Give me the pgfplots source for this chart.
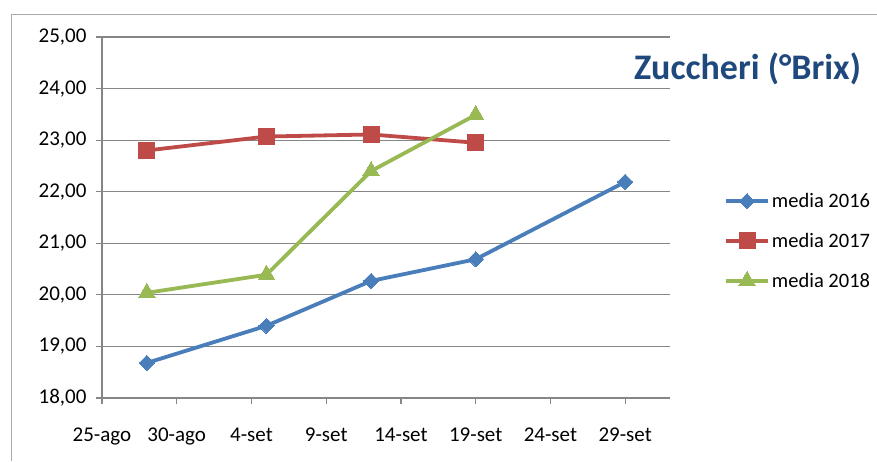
\documentclass[border=0pt]{standalone}
\usepackage{pgfplots}
\pgfplotsset{compat=1.18}
\usepackage{fontspec}
\setmainfont{Carlito}
\definecolor{c16}{RGB}{74,126,187}
\definecolor{c17}{RGB}{190,75,72}
\definecolor{c18}{RGB}{152,185,84}
\definecolor{titleblue}{RGB}{31,73,125}
\definecolor{gridgray}{RGB}{134,134,134}
\begin{document}
\begin{tikzpicture}[x=1pt,y=1pt]
\useasboundingbox (0,0) rectangle (877,461);
\draw[gridgray!70, line width=1pt] (11,0) -- (11,446) -- (877,446);
\begin{axis}[
  at={(102pt,63pt)}, anchor=south west,
  scale only axis, width=568pt, height=361pt,
  xmin=0, xmax=38, ymin=18, ymax=25,
  axis x line*=bottom, axis y line*=left,
  axis line style={gridgray, line width=1.2pt},
  xtick={0,5,...,35},
  xticklabels={25-ago,30-ago,4-set,9-set,14-set,19-set,24-set,29-set},
  ytick={18,19,...,25},
  ymajorgrids, grid style={gridgray, line width=1.2pt},
  tick align=outside, major tick length=6pt,
  tick style={gridgray, line width=1.2pt},
  font=\fontsize{21}{25}\selectfont,
  ticklabel style={font=\fontsize{21}{25}\selectfont},
  /pgf/number format/assume math mode=true,
  yticklabel={\pgfmathprintnumber[fixed,fixed zerofill,precision=2,use comma]{\tick}},
  yticklabel style={xshift=-6pt},
  xticklabel style={yshift=-20pt},
  legend cell align=left,
  legend style={draw=none, fill=none, at={(1.095,0.435)}, anchor=west,
    font=\fontsize{20.5}{24}\selectfont, row sep=20pt, inner sep=0pt},
  legend image code/.code={\draw[mark repeat=2,mark phase=2,#1] plot coordinates {(0pt,0pt) (21pt,0pt) (42pt,0pt)};},
  clip=false,
]
\addplot[c16, line width=3.8pt, mark=square*, mark size=5.4pt, mark options={solid, line width=0pt, rotate=45}] coordinates {
 (3,18.68) (11,19.40) (18,20.27) (25,20.69) (35,22.19)};
\addlegendentry{media 2016}
\addplot[c17, line width=3.8pt, mark=square*, mark size=8pt, mark options={solid, line width=0pt}] coordinates {
 (3,22.80) (11,23.07) (18,23.11) (25,22.95)};
\addlegendentry{media 2017}
\addplot[c18, line width=3.8pt, mark=triangle*, mark size=9.5pt, mark options={solid, line width=0pt}] coordinates {
 (3,20.04) (11,20.39) (18,22.40) (25,23.49)};
\addlegendentry{media 2018}
\end{axis}
\node[anchor=base, text=titleblue, font=\fontsize{36}{40}\selectfont\bfseries] at (747.5,381) {Zuccheri (°Brix)};
\end{tikzpicture}
\end{document}
